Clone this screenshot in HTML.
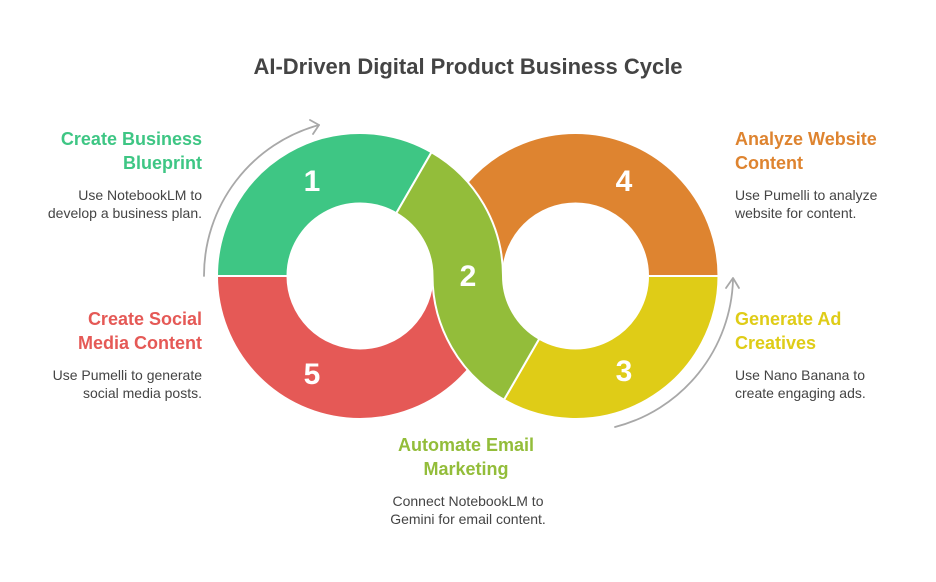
<!DOCTYPE html>
<html><head><meta charset="utf-8"><style>
html,body{margin:0;padding:0;background:#fff;}
body{width:936px;height:577px;overflow:hidden;font-family:"Liberation Sans",sans-serif;}
</style></head><body>
<svg width="936" height="577" viewBox="0 0 936 577" xmlns="http://www.w3.org/2000/svg" font-family="Liberation Sans, sans-serif">
<text x="468" y="74" text-anchor="middle" font-size="22" font-weight="bold" fill="#444">AI-Driven Digital Product Business Cycle</text>

<path d="M503 276 A143 143 0 0 1 217 276 L287.5 276 A72.5 72.5 0 0 0 432.5 276 Z" fill="#e55956" stroke="#fff" stroke-width="2"/>
<path d="M432.5 276 A143 143 0 0 1 718.5 276 L648 276 A72.5 72.5 0 0 0 503 276 Z" fill="#de8430" stroke="#fff" stroke-width="2"/>
<path d="M718.5 276 A143 143 0 0 1 504 399.8 L539.25 338.8 A72.5 72.5 0 0 0 648 276 Z" fill="#dfcc17" stroke="#fff" stroke-width="2"/>
<path d="M217 276 A143 143 0 0 1 431.5 152.2 L396.25 213.2 A72.5 72.5 0 0 0 287.5 276 Z" fill="#3ec684" stroke="#fff" stroke-width="2"/>
<path d="M431.5 152.2 A143 143 0 0 1 503 276 A72.5 72.5 0 0 0 539.25 338.8 L504 399.8 A143 143 0 0 1 432.5 276 A72.5 72.5 0 0 0 396.25 213.2 Z" fill="#93bd3a" stroke="#fff" stroke-width="2"/>

<g fill="#fff" font-size="30" font-weight="bold" text-anchor="middle">
<text x="312" y="191">1</text>
<text x="468" y="286">2</text>
<text x="624" y="381">3</text>
<text x="624" y="191">4</text>
<text x="312" y="384">5</text>
</g>

<g fill="none" stroke="#a8a8a8" stroke-width="1.8" stroke-linecap="round" stroke-linejoin="round">
<path d="M204 276 A156 156 0 0 1 319 125"/>
<path d="M310 120 L319 125 L313 134"/>
<path d="M615 427 A157 157 0 0 0 733 280"/>
<path d="M726 288 L733 278 L739 288"/>
</g>

<g font-size="18" font-weight="bold">
<text x="202" y="145" text-anchor="end" fill="#3ec684">Create Business</text>
<text x="202" y="169" text-anchor="end" fill="#3ec684">Blueprint</text>
<text x="202" y="325" text-anchor="end" fill="#e55956">Create Social</text>
<text x="202" y="349" text-anchor="end" fill="#e55956">Media Content</text>
<text x="735" y="145" fill="#de8430">Analyze Website</text>
<text x="735" y="169" fill="#de8430">Content</text>
<text x="735" y="325" fill="#dfcc17">Generate Ad</text>
<text x="735" y="349" fill="#dfcc17">Creatives</text>
<text x="466" y="451" text-anchor="middle" fill="#93bd3a">Automate Email</text>
<text x="466" y="475" text-anchor="middle" fill="#93bd3a">Marketing</text>
</g>
<g font-size="14" fill="#444">
<text x="202" y="200" text-anchor="end">Use NotebookLM to</text>
<text x="202" y="218" text-anchor="end">develop a business plan.</text>
<text x="202" y="380" text-anchor="end">Use Pumelli to generate</text>
<text x="202" y="398" text-anchor="end">social media posts.</text>
<text x="735" y="200">Use Pumelli to analyze</text>
<text x="735" y="218">website for content.</text>
<text x="735" y="380">Use Nano Banana to</text>
<text x="735" y="398">create engaging ads.</text>
<text x="468" y="506" text-anchor="middle">Connect NotebookLM to</text>
<text x="468" y="524" text-anchor="middle">Gemini for email content.</text>
</g>
</svg>
</body></html>
